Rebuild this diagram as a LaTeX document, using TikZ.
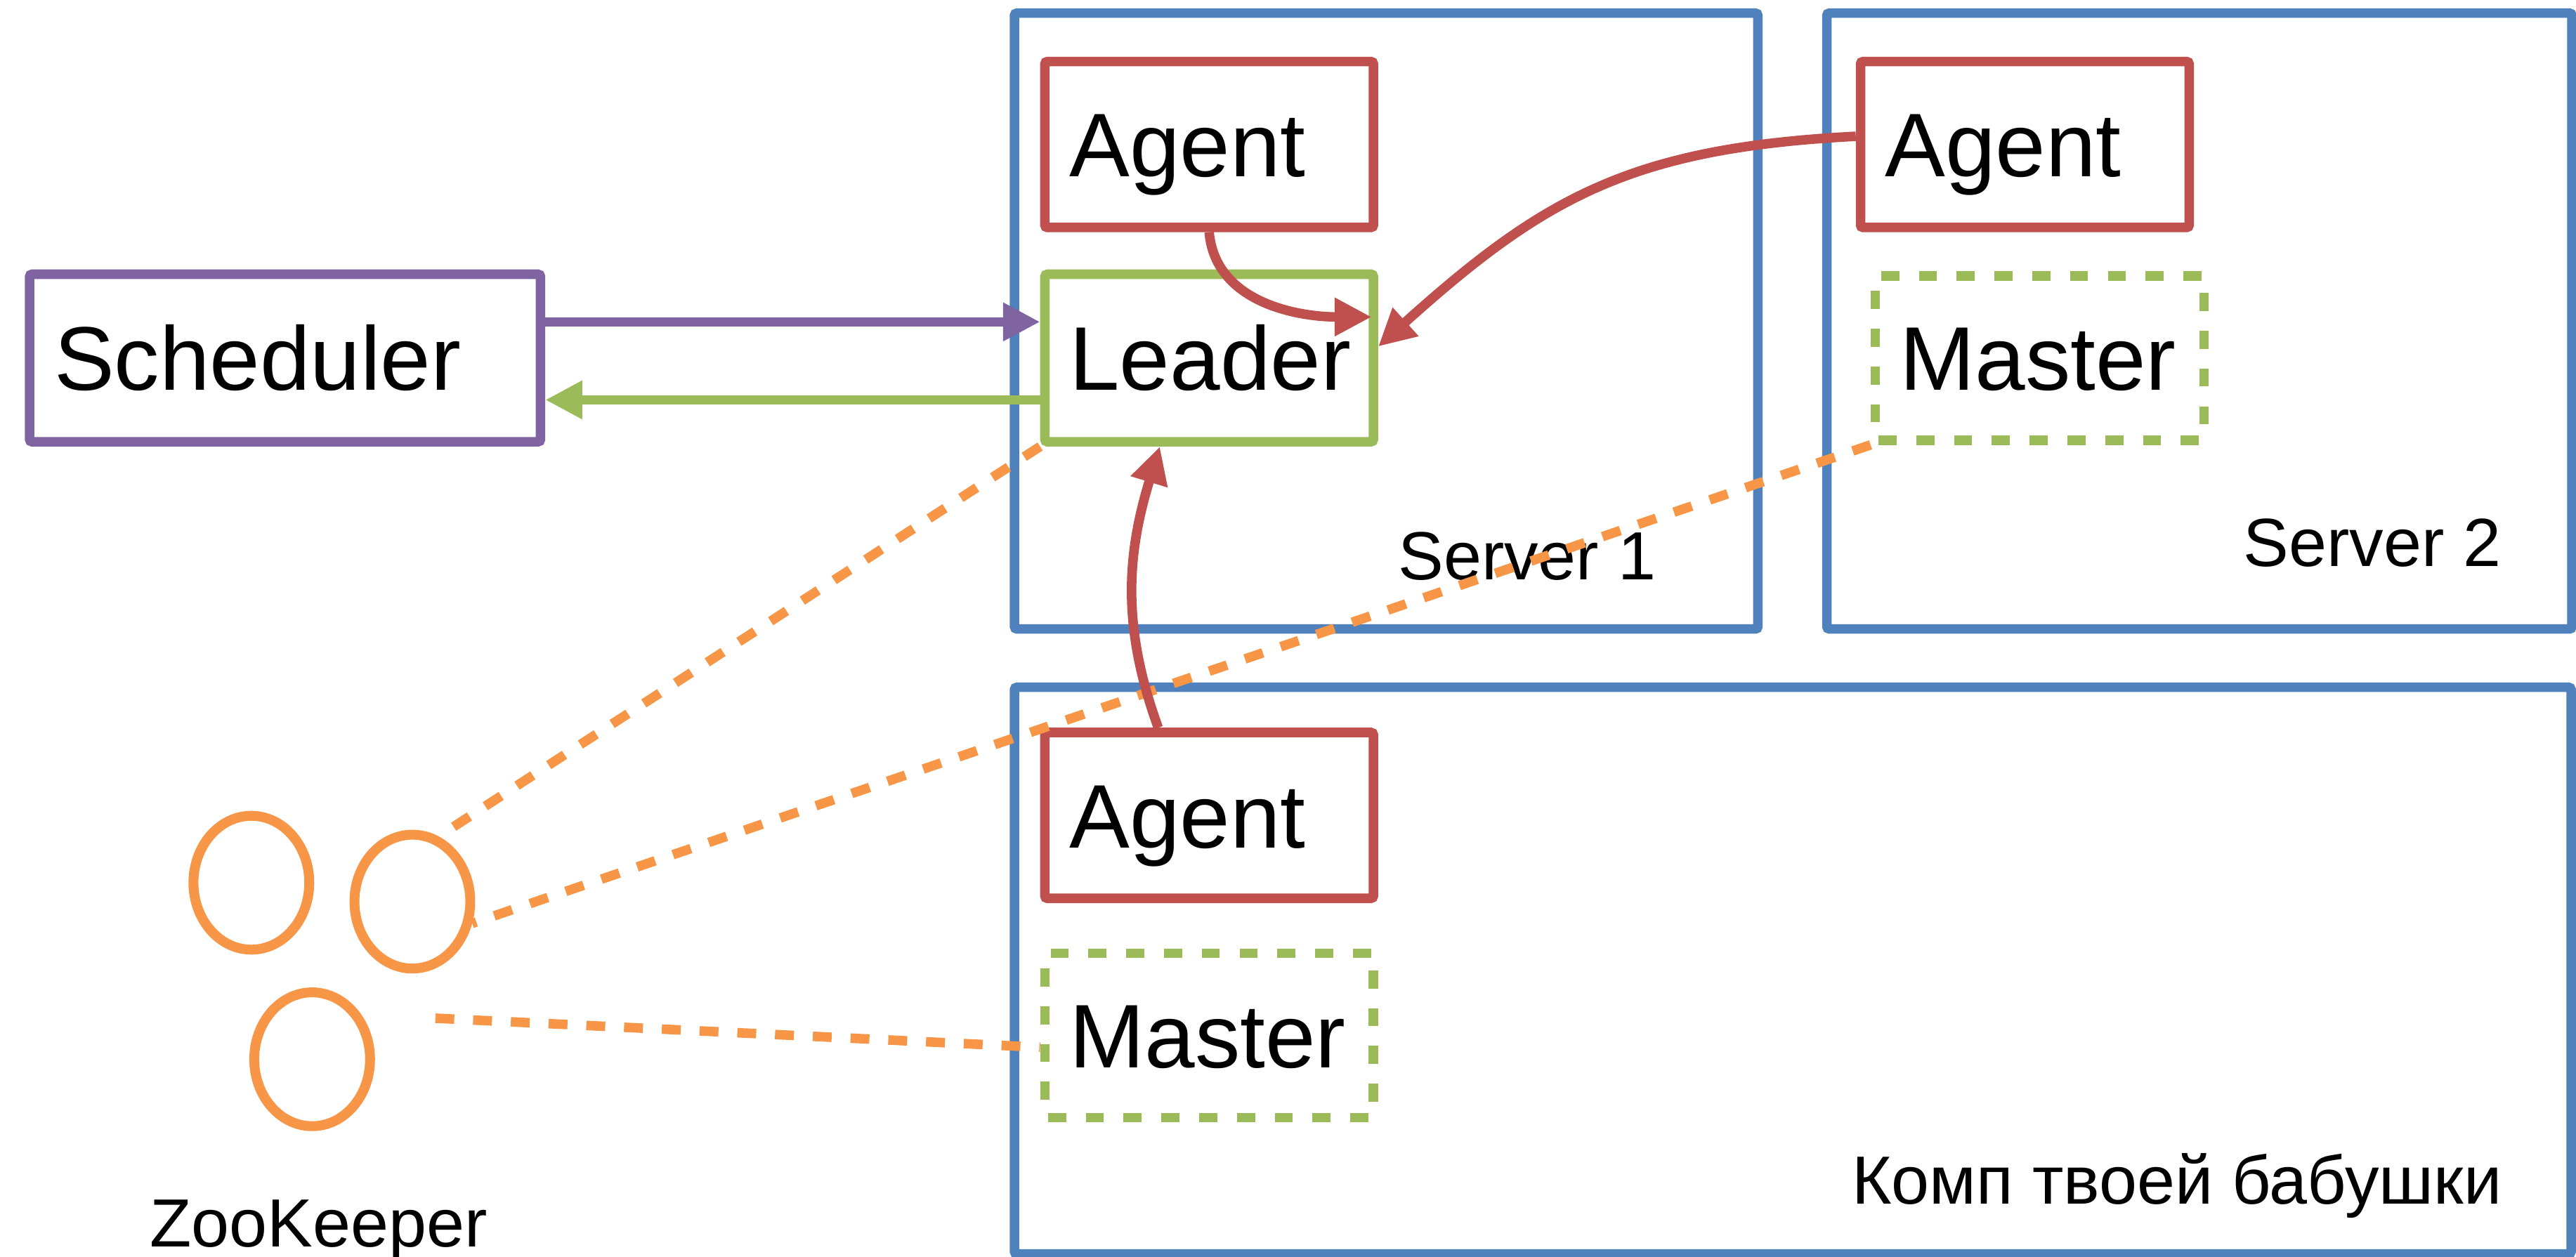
\documentclass[tikz,border=0pt]{standalone}
\usepackage{fontspec}
\setmainfont{Liberation Sans}
\usetikzlibrary{arrows.meta,shapes.geometric,calc}
\definecolor{zblue}{HTML}{4F81BD}
\definecolor{zred}{HTML}{C0504D}
\definecolor{zgreen}{HTML}{9BBB59}
\definecolor{zpurple}{HTML}{8064A2}
\definecolor{zorange}{HTML}{F79646}
\tikzset{
  serverbox/.style={draw=zblue, line width=5.8pt, fill=white, rounded corners=1.5pt, inner sep=0pt},
  box/.style={draw, line width=5.8pt, fill=white, rounded corners=1.5pt, inner xsep=15pt, inner ysep=0pt,
    minimum height=101pt, text width=170pt, minimum width=200pt, text height=39.4pt, text depth=0pt,
    align=left, font=\fontsize{55}{60}\selectfont},
  dashbox/.style={box, draw=zgreen, dash pattern=on 11pt off 12pt},
  lbl/.style={inner sep=0pt, font=\fontsize{41.5}{48}\selectfont},
  zk/.style={draw=zorange, line width=6pt, ellipse, minimum width=70.5pt, minimum height=81.5pt, inner sep=0pt, fill=white},
  conn/.style={line width=5.8pt},
  tip/.style={-{Triangle[length=22.5pt,width=22pt]}},
  zkline/.style={conn, draw=zorange, dash pattern=on 11.5pt off 11.5pt}
}
\begin{document}
\begin{tikzpicture}[x=1pt,y=1pt]
\useasboundingbox (0,0) rectangle (1568,765);
% containers
\node[serverbox, minimum width=452.5pt, minimum height=375pt] (s1) at (843.75,569.5) {};
\node[serverbox, minimum width=453.5pt, minimum height=375pt] (s2) at (1338.75,569.5) {};
\node[serverbox, minimum width=947.5pt, minimum height=345pt] (s3) at (1091.25,174) {};
% labels
\node[lbl, anchor=base] (l1) at (929.5,412) {Server 1};
\node[lbl, anchor=base] (l2) at (1444,420) {Server 2};
\node[lbl, anchor=base] (l3) at (1325,32) {Комп твоей бабушки};
\node[lbl, anchor=base] (lzk) at (194,6) {ZooKeeper};
% boxes
\node[box, draw=zred] (a1) at (736,677) {Agent};
\node[box, draw=zgreen, minimum height=102pt] (ld) at (736,547) {Leader};
\node[box, draw=zred] (a2) at (1232.5,677) {Agent};
\node[dashbox, minimum height=100pt] (m2) at (1241.5,547) {Master};
\node[box, draw=zred] (a3) at (736,268.5) {Agent};
\node[dashbox, minimum height=100pt] (m3) at (736,134.5) {Master};
\node[box, draw=zpurple, minimum height=102pt, text width=281pt, minimum width=311pt] (sch) at (173.5,547) {Scheduler};
% zookeeper nodes
\node[zk] (zk1) at (153,227.5) {};
\node[zk] (zk2) at (251,216) {};
\node[zk] (zk3) at (190,120) {};
\coordinate (zk3c) at (265,145);
% dashed zookeeper links
\draw[zkline] (ld.south west) -- (zk2.68);
\draw[zkline] (m2.south west) -- (zk2.-20);
\draw[zkline] (zk3c) -- (m3.184);
% arrows
\draw[conn, draw=zpurple, fill=zpurple, tip] ([yshift=22pt]sch.east) -- ([yshift=22pt]ld.west);
\draw[conn, draw=zgreen, fill=zgreen, tip] ([yshift=-25.5pt]ld.west) -- ([yshift=-25.5pt]sch.east);
\draw[conn, draw=zred, tip] (a1.south) to[out=-85,in=180] ([shift={(-4pt,25pt)}]ld.east);
\draw[conn, draw=zred, tip] ([yshift=5pt]a2.west) to[out=183,in=42,looseness=1.1] ([yshift=7pt]ld.east);
\draw[conn, draw=zred, tip] ([xshift=-31pt]a3.north) to[out=110,in=-107] ([xshift=-30pt]ld.south);
\end{tikzpicture}
\end{document}
